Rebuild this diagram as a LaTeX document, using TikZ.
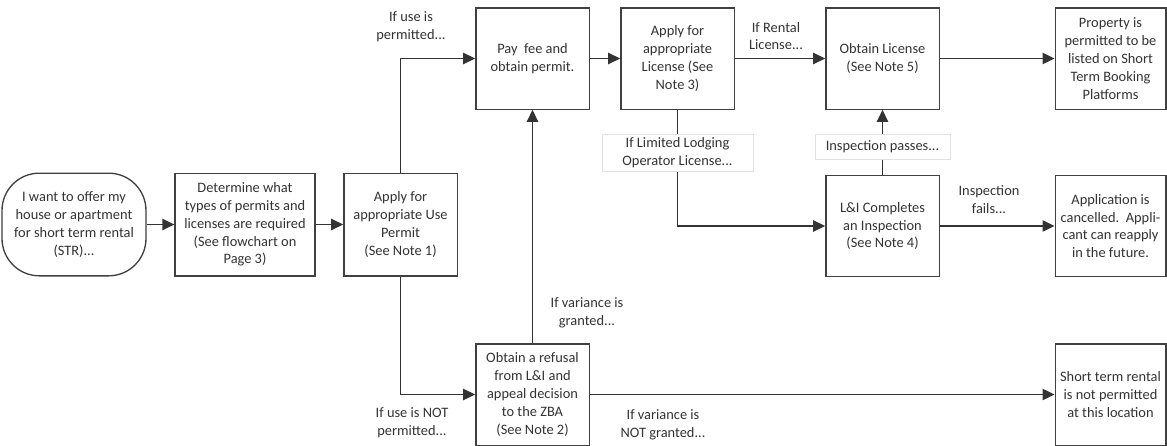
\documentclass[tikz,border=0pt]{standalone}
\usepackage{fontspec}
\setmainfont{Carlito}
\usepackage{tikz}
\usetikzlibrary{arrows.meta,positioning}

\tikzset{
  stepbox/.style={draw=black!75, line width=1pt, fill=white, align=center, text=black!80,
    minimum width=85pt, minimum height=76pt, inner sep=2pt, font=\fontsize{10.8}{13.4}\selectfont},
  widebox/.style={stepbox, minimum width=83pt},
  startbox/.style={stepbox, rounded corners=28pt, minimum width=108pt, minimum height=77pt},
  lbl/.style={align=center, text=black!80, inner sep=1pt, font=\fontsize{10.8}{13.4}\selectfont},
  lblbox/.style={lbl, draw=black!12, fill=white},
  flow/.style={draw=black!80, line width=1pt, -{Triangle[length=9pt,width=8.5pt]}},
}

\begin{document}
\begin{tikzpicture}[x=0.75pt,y=-0.75pt]
\useasboundingbox (0,0) rectangle (1167,446);

% boxes
\node[startbox] (start) at (74,224.5) {I want to offer my\\house or apartment\\for short term rental\\(STR)...};
\node[stepbox, minimum width=105pt, minimum height=77pt] (det) at (245,224.5) {Determine what\\types of permits and\\licenses are required\\(See flowchart on\\Page 3)};
\node[stepbox, minimum height=77pt] (usep) at (400.5,224.5) {Apply for\\appropriate Use\\Permit\\(See Note 1)};
\node[stepbox] (pay) at (532.5,58.5) {Pay\ \ fee and\\obtain permit.};
\node[stepbox] (lic) at (677.5,58.5) {Apply for\\appropriate\\License (See\\Note 3)};
\node[stepbox] (obt) at (882.5,58.5) {Obtain License\\(See Note 5)};
\node[widebox] (prop) at (1110.5,58.5) {Property is\\permitted to be\\listed on Short\\Term Booking\\Platforms};
\node[stepbox] (insp) at (882.5,226) {L\&I Completes\\an Inspection\\(See Note 4)};
\node[widebox] (canc) at (1110.5,226) {Application is\\cancelled.\ \ Appli-\\cant can reapply\\in the future.};
\node[stepbox] (refu) at (532.5,394.5) {Obtain a refusal\\from L\&I and\\appeal decision\\to the ZBA\\(See Note 2)};
\node[widebox] (notp) at (1110.5,394.5) {Short term rental\\is not permitted\\at this location};

% connectors
\draw[flow] (start) -- (det);
\draw[flow] (det) -- (usep);
\draw[flow] (usep.north) |- (pay.west);
\draw[flow] (pay) -- (lic);
\draw[flow] (lic) -- (obt);
\draw[flow] (obt) -- (prop);
\draw[flow] (refu.north) -- (pay.south);
\draw[flow] (usep.south) |- (refu.west);
\draw[flow] (refu) -- (notp);
\draw[flow] (lic.south) |- (insp.west);
\draw[flow] (insp.north) -- (obt.south);
\draw[flow] (insp) -- (canc);

% labels
\node[lbl] (permitted) at (411,27) {If use is\\permitted...};
\node[lbl] (rental) at (776,36) {If Rental\\License...};
\node[lblbox, minimum width=113pt, minimum height=28pt] (lodging) at (677.5,152.5) {If Limited Lodging\\Operator License...};
\node[lblbox, minimum width=101pt, minimum height=19pt] (passes) at (882.5,146.5) {Inspection passes...};
\node[lbl] (fails) at (989,200) {Inspection\\fails...};
\node[lbl] (granted) at (587,313) {If variance is\\granted...};
\node[lbl] (notpermitted) at (412,423) {If use is NOT\\permitted...};
\node[lbl] (notgranted) at (663,425) {If variance is\\NOT granted...};
\end{tikzpicture}
\end{document}
